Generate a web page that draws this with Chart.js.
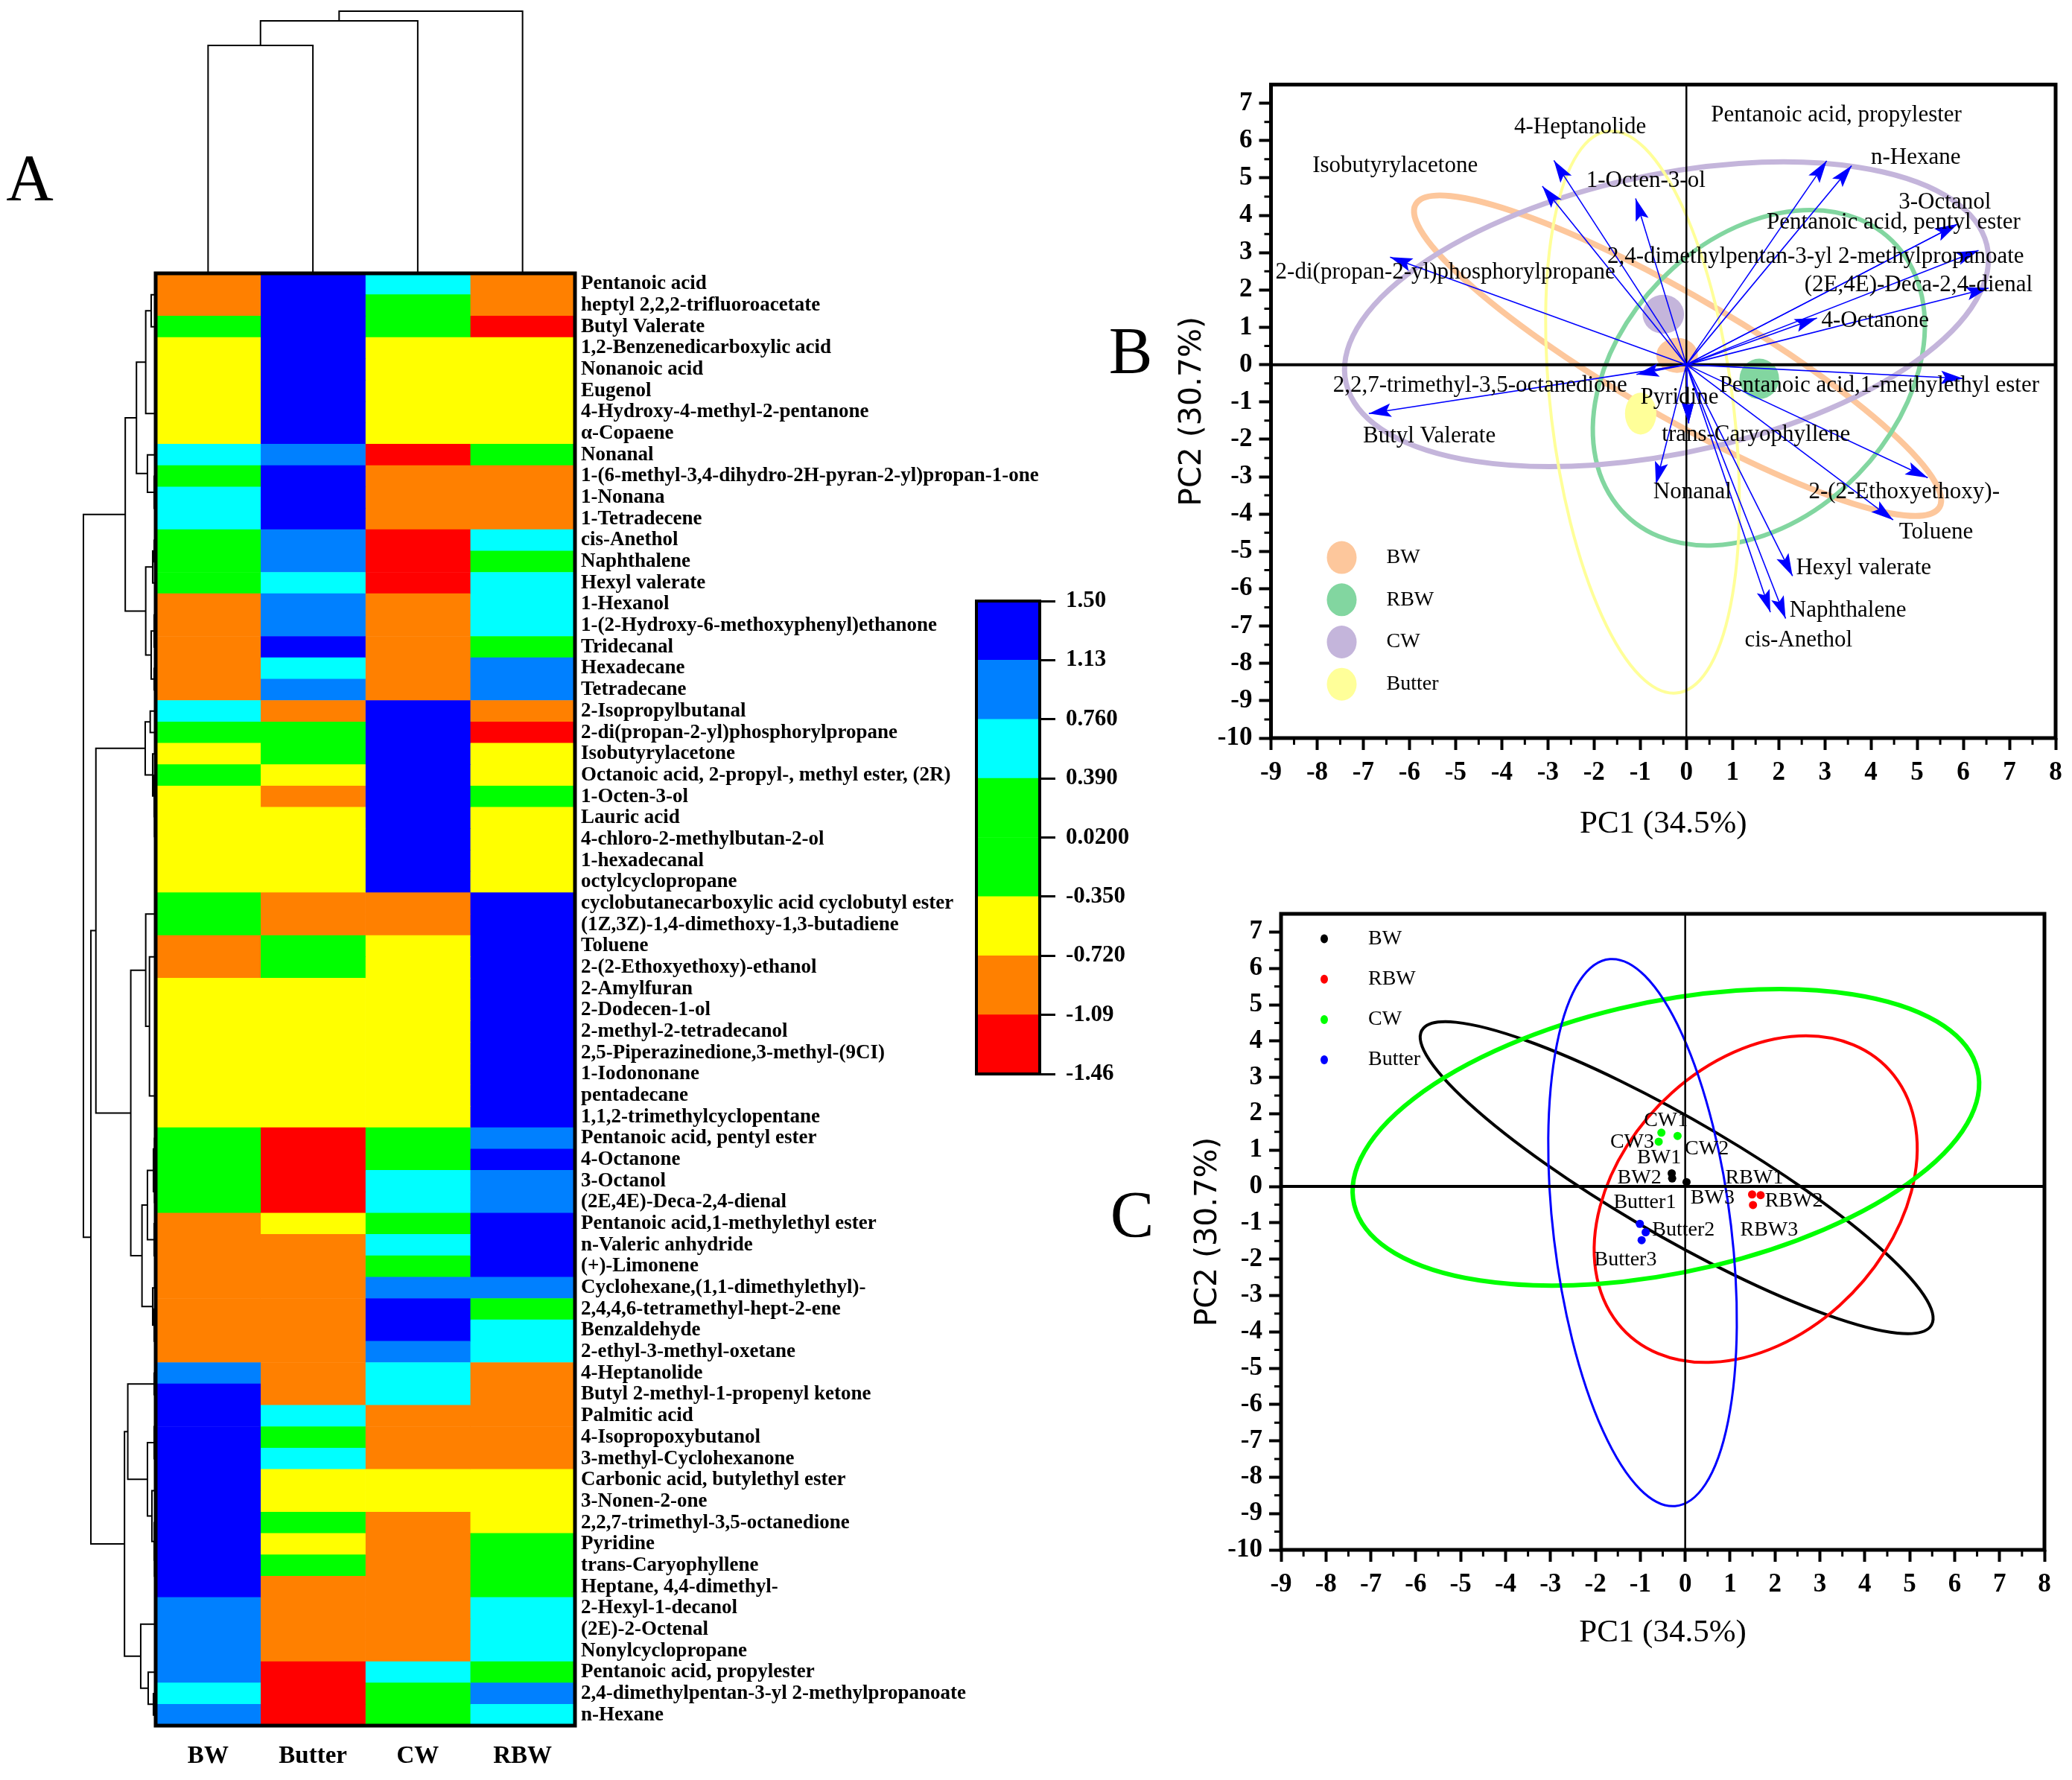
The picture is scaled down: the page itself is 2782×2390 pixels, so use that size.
<!DOCTYPE html>
<html>
<head>
<meta charset="utf-8">
<script src="https://cdn.jsdelivr.net/npm/chart.js@4.4.1/dist/chart.umd.min.js"></script>
<style>
  html, body { margin: 0; padding: 0; background: #fff; }
  body { width: 2782px; height: 2390px; position: relative; overflow: hidden; }
  canvas { position: absolute; }
</style>
</head>
<body>
<canvas id="letters" width="2782" height="2390" style="left:0;top:0"></canvas>
<canvas id="heatmap" width="1460" height="2390" style="left:0;top:0"></canvas>
<canvas id="colorbar" width="280" height="730" style="left:1290px;top:760px"></canvas>
<canvas id="biplot" width="1242" height="1100" style="left:1540px;top:60px"></canvas>
<canvas id="scores" width="1242" height="1110" style="left:1540px;top:1170px"></canvas>
<script>
Chart.defaults.font.family = "'Liberation Serif', 'Times New Roman', serif";
Chart.defaults.color = "#000";

// ---- panel A : heatmap ----
const samples = ["BW", "Butter", "CW", "RBW"];
const compounds = [
  "Pentanoic acid", "heptyl 2,2,2-trifluoroacetate", "Butyl Valerate", "1,2-Benzenedicarboxylic acid",
  "Nonanoic acid", "Eugenol", "4-Hydroxy-4-methyl-2-pentanone", "α-Copaene", "Nonanal",
  "1-(6-methyl-3,4-dihydro-2H-pyran-2-yl)propan-1-one", "1-Nonana", "1-Tetradecene", "cis-Anethol",
  "Naphthalene", "Hexyl valerate", "1-Hexanol", "1-(2-Hydroxy-6-methoxyphenyl)ethanone", "Tridecanal",
  "Hexadecane", "Tetradecane", "2-Isopropylbutanal", "2-di(propan-2-yl)phosphorylpropane",
  "Isobutyrylacetone", "Octanoic acid, 2-propyl-, methyl ester, (2R)", "1-Octen-3-ol", "Lauric acid",
  "4-chloro-2-methylbutan-2-ol", "1-hexadecanal", "octylcyclopropane",
  "cyclobutanecarboxylic acid cyclobutyl ester", "(1Z,3Z)-1,4-dimethoxy-1,3-butadiene", "Toluene",
  "2-(2-Ethoxyethoxy)-ethanol", "2-Amylfuran", "2-Dodecen-1-ol", "2-methyl-2-tetradecanol",
  "2,5-Piperazinedione,3-methyl-(9CI)", "1-Iodononane", "pentadecane", "1,1,2-trimethylcyclopentane",
  "Pentanoic acid, pentyl ester", "4-Octanone", "3-Octanol", "(2E,4E)-Deca-2,4-dienal",
  "Pentanoic acid,1-methylethyl ester", "n-Valeric anhydride", "(+)-Limonene",
  "Cyclohexane,(1,1-dimethylethyl)-", "2,4,4,6-tetramethyl-hept-2-ene", "Benzaldehyde",
  "2-ethyl-3-methyl-oxetane", "4-Heptanolide", "Butyl 2-methyl-1-propenyl ketone", "Palmitic acid",
  "4-Isopropoxybutanol", "3-methyl-Cyclohexanone", "Carbonic acid, butylethyl ester", "3-Nonen-2-one",
  "2,2,7-trimethyl-3,5-octanedione", "Pyridine", "trans-Caryophyllene", "Heptane, 4,4-dimethyl-",
  "2-Hexyl-1-decanol", "(2E)-2-Octenal", "Nonylcyclopropane", "Pentanoic acid, propylester",
  "2,4-dimethylpentan-3-yl 2-methylpropanoate", "n-Hexane"
];
// standardised contents
const bwValues = [
  -0.93, -0.88, 0.12, -0.52, -0.55, -0.55, -0.56, -0.54, 0.58, -0.08,
  0.61, 0.60, 0.05, -0.02, 0.15, -0.85, -0.86, -0.95, -0.90, -0.92,
  0.52, 0.08, -0.58, -0.12, -0.53, -0.56, -0.56, -0.56, -0.56, 0.18,
  0.18, -0.84, -0.84, -0.55, -0.55, -0.55, -0.55, -0.55, -0.55, -0.55,
  -0.15, -0.12, 0.05, 0.05, -0.96, -0.94, -0.94, -0.90, -0.88, -0.88,
  -0.89, 0.98, 1.34, 1.36, 1.36, 1.36, 1.40, 1.40, 1.42, 1.41,
  1.41, 1.38, 1.02, 1.02, 1.02, 0.91, 0.70, 0.86
];
const butterValues = [
  1.46, 1.40, 1.42, 1.48, 1.48, 1.48, 1.48, 1.48, 0.89, 1.38,
  1.35, 1.35, 0.96, 0.92, 0.66, 0.98, 0.98, 1.21, 0.64, 0.88,
  -0.97, 0.10, -0.20, -0.49, -0.86, -0.60, -0.60, -0.60, -0.60, -0.95,
  -0.95, -0.18, -0.18, -0.62, -0.62, -0.62, -0.62, -0.62, -0.62, -0.62,
  -1.42, -1.38, -1.35, -1.35, -0.45, -0.90, -0.90, -0.86, -0.82, -0.82,
  -0.82, -1.02, -1.00, 0.47, 0.22, 0.50, -0.66, -0.66, -0.25, -0.40,
  -0.10, -0.88, -0.96, -0.96, -0.96, -1.20, -1.30, -1.25
];
const cwValues = [
  0.44, 0.28, -0.10, -0.62, -0.62, -0.62, -0.62, -0.62, -1.30, -0.84,
  -0.81, -0.81, -1.33, -1.36, -1.30, -0.93, -0.93, -0.96, -0.96, -0.96,
  1.37, 1.44, 1.31, 1.40, 1.29, 1.46, 1.46, 1.46, 1.46, -0.79,
  -0.79, -0.47, -0.47, -0.50, -0.50, -0.50, -0.50, -0.50, -0.50, -0.50,
  -0.03, 0.00, 0.42, 0.45, 0.30, 0.60, 0.34, 0.82, 1.16, 1.20,
  0.87, 0.68, 0.72, -0.86, -0.85, -0.85, -0.71, -0.71, -0.98, -0.98,
  -0.98, -0.94, -0.87, -0.87, -0.87, 0.48, 0.14, 0.10
];
const rbwValues = [
  -0.92, -0.96, -1.38, -0.63, -0.63, -0.63, -0.63, -0.63, 0.20, -0.84,
  -0.78, -0.78, 0.55, 0.10, 0.52, 0.66, 0.66, -0.20, 0.90, 0.90,
  -0.89, -1.17, -0.48, -0.48, -0.30, -0.52, -0.52, -0.52, -0.52, 1.45,
  1.45, 1.25, 1.25, 1.42, 1.42, 1.42, 1.42, 1.42, 1.42, 1.42,
  0.98, 1.15, 1.06, 1.06, 1.32, 1.30, 1.31, 0.85, -0.04, 0.49,
  0.49, -0.93, -0.93, -0.89, -0.89, -0.89, -0.52, -0.52, -0.40, 0.06,
  0.06, 0.08, 0.63, 0.63, 0.63, -0.16, 0.80, 0.55
];
const scaleBreaks = [-1.46, -1.09, -0.72, -0.35, 0.02, 0.39, 0.76, 1.13, 1.50];
const scaleLabels = ["-1.46", "-1.09", "-0.720", "-0.350", "0.0200", "0.390", "0.760", "1.13", "1.50"];
const bandColors = ["#FF0000", "#FF8000", "#FFFF00", "#00FF00", "#00FF00", "#00FFFF", "#0080FF", "#0000FF"];

// cluster trees: [linkage distance, left, right], leaves are row / column indices
const rowTree = [96.7,
  [40.7,
    [25.7,
      [13.3, [6, [1, 0, 1], 2], [0.8, [0.8, [0.8, [0.8, 3, 4], 5], 6], 7]],
      [11, 8, [2, 9, [1, 10, 11]]]],
    [13.3, [4, [2, 12, 13], 14], [6, [2, [1, 15, 16], 17], [2, 18, 19]]]],
  [86.7,
    [80,
      [14, [7.3, 20, 21], [4, 22, [2, 23, [1.5, 24, [1, 25, [1, 26, [1, 27, 28]]]]]]],
      [33.3,
        [13.3, [1, 29, 30], [8.3, [1, 31, 32], [1, [1, [1, [1, [1, [1, 33, 34], 35], 36], 37], 38], 39]]],
        [18.3, [11, [3, [1.5, 40, 41], [1.5, 42, 43]], [2, 44, [1, 45, 46]]], [4, 47, [2, 48, [1, 49, 50]]]]]],
    [41.7,
      [37.3, [2, 51, 52], [11, [2, [1, 53, 54], 55], [5, [1, 56, 57], [2, 58, [1.5, 59, [1, 60, 61]]]]]],
      [20, [1, 62, [1, 63, 64]], [10, 65, [3, 66, 67]]]]]];
const colTree = [352, [339, [306, 0, 1], 2], 3];

// ---- panels B / C : PCA ----
const pcTicksX = [-9, -8, -7, -6, -5, -4, -3, -2, -1, 0, 1, 2, 3, 4, 5, 6, 7, 8];
const pcTicksY = [-10, -9, -8, -7, -6, -5, -4, -3, -2, -1, 0, 1, 2, 3, 4, 5, 6, 7];
const groups = ["BW", "RBW", "CW", "Butter"];
const ellipseCx = [-0.19, 1.57, -0.43, -0.95];
const ellipseCy = [0.24, -0.35, 1.35, -1.27];
const ellipseA = [6.98, 4.77, 7.19, 7.56];
const ellipseB = [1.52, 3.22, 3.69, 1.98];
const ellipseAngle = [143.9, 62.9, 16.4, 95.5];
const meanCx = [-0.20, 1.58, -0.50, -0.99];
const meanCy = [0.25, -0.38, 1.35, -1.31];
const meanRx = [0.45, 0.43, 0.45, 0.34];
const meanRy = [0.47, 0.54, 0.52, 0.56];

const loadingNames = ["4-Heptanolide", "Isobutyrylacetone", "1-Octen-3-ol", "2-di(propan-2-yl)phosphorylpropane",
  "Pentanoic acid, propylester", "n-Hexane", "3-Octanol", "Pentanoic acid, pentyl ester",
  "2,4-dimethylpentan-3-yl 2-methylpropanoate", "(2E,4E)-Deca-2,4-dienal", "4-Octanone",
  "Pentanoic acid,1-methylethyl ester", "2,2,7-trimethyl-3,5-octanedione", "Butyl Valerate", "Pyridine",
  "trans-Caryophyllene", "Nonanal", "2-(2-Ethoxyethoxy)-", "Toluene", "Hexyl valerate", "Naphthalene", "cis-Anethol"];
const loadingX = [-2.87, -3.12, -1.10, -6.42, 3.04, 3.58, 5.87, 5.87, 6.33, 6.55, 2.83, 6.00, -1.08, -6.88, 0.05, 0.05, -0.66, 5.23, 4.48, 2.30, 2.15, 1.82];
const loadingY = [5.47, 4.78, 4.45, 2.88, 5.46, 5.33, 3.76, 3.76, 3.06, 2.05, 1.25, -0.37, -0.26, -1.31, -1.57, -1.57, -3.20, -3.03, -4.16, -5.66, -6.80, -6.63];
const loadingLabelX = [-2.30, -6.31, -0.88, -5.22, 3.25, 4.97, 5.60, 4.49, 2.80, 5.03, 4.09, 4.18, -4.47, -5.57, -0.15, 1.51, 0.13, 4.72, 5.41, 3.84, 3.50, 2.43];
const loadingLabelY = [6.35, 5.33, 4.92, 2.47, 6.68, 5.54, 4.35, 3.80, 2.88, 2.13, 1.17, -0.57, -0.57, -1.92, -0.89, -1.88, -3.42, -3.42, -4.49, -5.44, -6.59, -7.39];

const scoreLabels = [["BW1", "BW2", "BW3"], ["RBW1", "RBW2", "RBW3"], ["CW1", "CW2", "CW3"], ["Butter1", "Butter2", "Butter3"]];
const scoreX = [[-0.30, -0.29, 0.03], [1.49, 1.68, 1.51], [-0.53, -0.17, -0.59], [-1.01, -0.88, -0.97]];
const scoreY = [[0.36, 0.22, 0.12], [-0.22, -0.24, -0.51], [1.48, 1.39, 1.23], [-1.03, -1.26, -1.48]];
const scoreLabelX = [[-0.58, -1.02, 0.61], [1.54, 2.42, 1.87], [-0.43, 0.48, -1.18], [-0.90, -0.04, -1.33]];
const scoreLabelY = [[0.78, 0.24, -0.32], [0.23, -0.40, -1.20], [1.82, 1.04, 1.22], [-0.44, -1.20, -2.03]];

const pastel = ["#FDC79C", "#82D6A0", "#C4B5DB", "#FFFF99"];
const pastelWidth = [8, 6, 7, 4];
const strong = ["#000000", "#FF0000", "#00FF00", "#0000FF"];
const strongWidth = [4, 4, 6, 3];

function bandColor(v) {
  for (let i = 0; i < bandColors.length; i++) {
    if (v < scaleBreaks[i + 1]) return bandColors[i];
  }
  return bandColors[bandColors.length - 1];
}

// panel letters
const lc = document.getElementById("letters").getContext("2d");
lc.font = "88px 'Liberation Serif'";
lc.textAlign = "center";
lc.fillStyle = "#000";
lc.fillText("A", 40, 268);
lc.fillText("B", 1518, 500);
lc.fillText("C", 1520, 1660);

const heatmapDecor = {
  id: "heatmapDecor",
  afterDraw(chart) {
    const { ctx, chartArea: a, scales } = chart;
    ctx.save();
    ctx.strokeStyle = "#000";
    ctx.lineWidth = 2;
    const kr = 97 / rowTree[0];
    const drawRow = (node) => {
      if (typeof node === "number") return { pos: scales.y.getPixelForValue(node), h: 0 };
      const l = drawRow(node[1]);
      const r = drawRow(node[2]);
      const x = a.left - node[0] * kr;
      ctx.beginPath();
      ctx.moveTo(a.left - l.h * kr, l.pos);
      ctx.lineTo(x, l.pos);
      ctx.lineTo(x, r.pos);
      ctx.lineTo(a.left - r.h * kr, r.pos);
      ctx.stroke();
      return { pos: (l.pos + r.pos) / 2, h: node[0] };
    };
    drawRow(rowTree);
    const kc = 352 / colTree[0];
    const drawCol = (node) => {
      if (typeof node === "number") return { pos: scales.x.getPixelForValue(node + 0.5), h: 0 };
      const l = drawCol(node[1]);
      const r = drawCol(node[2]);
      const y = a.top - node[0] * kc;
      ctx.beginPath();
      ctx.moveTo(l.pos, a.top - l.h * kc);
      ctx.lineTo(l.pos, y);
      ctx.lineTo(r.pos, y);
      ctx.lineTo(r.pos, a.top - r.h * kc);
      ctx.stroke();
      return { pos: (l.pos + r.pos) / 2, h: node[0] };
    };
    drawCol(colTree);
    ctx.lineWidth = 5;
    ctx.strokeRect(a.left, a.top, a.width, a.height);
    ctx.restore();
  },
};

new Chart(document.getElementById("heatmap"), {
  type: "bar",
  data: {
    labels: compounds,
    datasets: [bwValues, butterValues, cwValues, rbwValues].map((vals, i) => ({
      label: samples[i],
      data: vals.map(() => 1),
      backgroundColor: vals.map(bandColor),
      borderWidth: 0,
      barPercentage: 1,
      categoryPercentage: 1,
    })),
  },
  options: {
    indexAxis: "y",
    responsive: false,
    animation: false,
    devicePixelRatio: 1,
    events: [],
    layout: { padding: { left: 209, top: 367, right: 0, bottom: 0 } },
    plugins: { legend: { display: false }, tooltip: { enabled: false } },
    scales: {
      x: {
        stacked: true,
        min: 0,
        max: 4,
        afterBuildTicks: (s) => { s.ticks = samples.map((_, i) => ({ value: i + 0.5 })); },
        afterFit: (s) => { s.height = 73; },
        ticks: { callback: (v) => samples[Math.floor(v)], font: { size: 33, weight: "bold" }, color: "#000", padding: 22, maxRotation: 0 },
        grid: { display: false, drawTicks: false },
        border: { display: false },
      },
      y: {
        stacked: true,
        position: "right",
        afterFit: (s) => { s.width = 688; },
        ticks: { autoSkip: false, font: { size: 27, weight: "bold" }, color: "#000", padding: 8 },
        grid: { display: false, drawTicks: false },
        border: { display: false },
      },
    },
  },
  plugins: [heatmapDecor],
});

const boxFrame = {
  id: "boxFrame",
  afterDraw(chart) {
    const { ctx, chartArea: a } = chart;
    ctx.save();
    ctx.strokeStyle = "#000";
    ctx.lineWidth = 4;
    ctx.strokeRect(a.left, a.top, a.width, a.height);
    ctx.restore();
  },
};

new Chart(document.getElementById("colorbar"), {
  type: "bar",
  data: {
    labels: [""],
    datasets: bandColors.map((c, i) => ({
      data: [[scaleBreaks[i], scaleBreaks[i + 1]]],
      backgroundColor: c,
      borderWidth: 0,
      barPercentage: 1,
      categoryPercentage: 1,
    })),
  },
  options: {
    responsive: false,
    animation: false,
    devicePixelRatio: 1,
    events: [],
    layout: { padding: { left: 21, top: 47, bottom: 48, right: 0 } },
    plugins: { legend: { display: false }, tooltip: { enabled: false } },
    scales: {
      x: { stacked: true, display: false },
      y: {
        stacked: false,
        position: "right",
        min: -1.46,
        max: 1.5,
        afterBuildTicks: (s) => { s.ticks = scaleBreaks.map((v) => ({ value: v })); },
        afterFit: (s) => { s.width = 174; },
        ticks: { autoSkip: false, callback: (v, i) => scaleLabels[i], font: { size: 31, weight: "bold" }, color: "#000", padding: 14 },
        grid: { drawOnChartArea: false, tickLength: 21, tickWidth: 3, tickColor: "#000" },
        border: { display: false },
      },
    },
  },
  plugins: [boxFrame],
});

// ---- PCA helpers ----
function traceEllipse(chart, cx, cy, a, b, angle) {
  const { ctx, scales } = chart;
  const kx = scales.x.getPixelForValue(1) - scales.x.getPixelForValue(0);
  const ky = scales.y.getPixelForValue(0) - scales.y.getPixelForValue(1);
  ctx.save();
  ctx.translate(scales.x.getPixelForValue(cx), scales.y.getPixelForValue(cy));
  ctx.scale(kx, -ky);
  ctx.rotate((angle * Math.PI) / 180);
  ctx.beginPath();
  ctx.ellipse(0, 0, a, b, 0, 0, Math.PI * 2);
  ctx.restore();
}

function drawZeroLines(chart) {
  const { ctx, chartArea: a, scales } = chart;
  const x0 = scales.x.getPixelForValue(0);
  const y0 = scales.y.getPixelForValue(0);
  ctx.save();
  ctx.strokeStyle = "#000";
  ctx.lineWidth = 4;
  ctx.beginPath();
  ctx.moveTo(a.left, y0);
  ctx.lineTo(a.right, y0);
  ctx.stroke();
  ctx.lineWidth = 2.5;
  ctx.beginPath();
  ctx.moveTo(x0, a.top);
  ctx.lineTo(x0, a.bottom);
  ctx.stroke();
  ctx.restore();
}

function drawFrame(chart) {
  const { ctx, chartArea: a, scales } = chart;
  ctx.save();
  ctx.strokeStyle = "#000";
  ctx.lineWidth = 5;
  ctx.strokeRect(a.left, a.top, a.width, a.height);
  // minor ticks at half units
  ctx.lineWidth = 3;
  ctx.beginPath();
  for (let v = scales.x.min + 0.5; v < scales.x.max; v += 1) {
    const px = scales.x.getPixelForValue(v);
    ctx.moveTo(px, a.bottom);
    ctx.lineTo(px, a.bottom + 9);
  }
  for (let v = scales.y.min + 0.5; v < scales.y.max; v += 1) {
    const py = scales.y.getPixelForValue(v);
    ctx.moveTo(a.left, py);
    ctx.lineTo(a.left - 9, py);
  }
  ctx.stroke();
  ctx.restore();
}

function pcaOptions(box) {
  return {
    responsive: false,
    animation: false,
    devicePixelRatio: 1,
    events: [],
    layout: { padding: { top: box.top, right: box.right, left: 0, bottom: 0 } },
    plugins: { legend: { display: false }, tooltip: { enabled: false } },
    scales: {
      x: {
        type: "linear",
        min: -9,
        max: 8,
        afterBuildTicks: (s) => { s.ticks = pcTicksX.map((v) => ({ value: v })); },
        afterFit: (s) => { s.height = box.xHeight; },
        ticks: { autoSkip: false, maxRotation: 0, font: { size: 35, weight: "bold" }, color: "#000", padding: 10 },
        grid: { drawOnChartArea: false, tickLength: 16, tickWidth: 4, tickColor: "#000" },
        border: { display: false },
        title: { display: true, text: "PC1 (34.5%)", font: { size: 43 }, color: "#000", padding: { top: 0, bottom: box.xTitlePad } },
      },
      y: {
        type: "linear",
        min: -10,
        max: 7.5,
        afterBuildTicks: (s) => { s.ticks = pcTicksY.map((v) => ({ value: v })); },
        afterFit: (s) => { s.width = box.yWidth; },
        ticks: { autoSkip: false, font: { size: 35, weight: "bold" }, color: "#000", padding: 9 },
        grid: { drawOnChartArea: false, tickLength: 16, tickWidth: 4, tickColor: "#000" },
        border: { display: false },
        title: { display: true, text: "PC2 (30.7%)", font: { family: "'DejaVu Sans', sans-serif", size: 41 }, color: "#000", padding: { top: box.yTitlePad, bottom: 0 } },
      },
    },
  };
}

// ---- panel B : biplot ----
const biplotDecor = {
  id: "biplotDecor",
  beforeDatasetsDraw(chart) {
    const { ctx, chartArea: a } = chart;
    ctx.save();
    ctx.beginPath();
    ctx.rect(a.left, a.top, a.width, a.height);
    ctx.clip();
    groups.forEach((g, i) => {
      traceEllipse(chart, ellipseCx[i], ellipseCy[i], ellipseA[i], ellipseB[i], ellipseAngle[i]);
      ctx.strokeStyle = pastel[i];
      ctx.lineWidth = pastelWidth[i];
      ctx.stroke();
    });
    groups.forEach((g, i) => {
      traceEllipse(chart, meanCx[i], meanCy[i], meanRx[i], meanRy[i], 0);
      ctx.fillStyle = pastel[i];
      ctx.fill();
    });
    ctx.restore();
    drawZeroLines(chart);
  },
  afterDatasetsDraw(chart) {
    const { ctx, scales } = chart;
    const x0 = scales.x.getPixelForValue(0);
    const y0 = scales.y.getPixelForValue(0);
    ctx.save();
    ctx.fillStyle = "#0000FF";
    loadingNames.forEach((n, i) => {
      const x1 = scales.x.getPixelForValue(loadingX[i]);
      const y1 = scales.y.getPixelForValue(loadingY[i]);
      const ang = Math.atan2(y1 - y0, x1 - x0);
      const len = 30, half = 9;
      ctx.beginPath();
      ctx.moveTo(x1, y1);
      ctx.lineTo(x1 - len * Math.cos(ang) + half * Math.sin(ang), y1 - len * Math.sin(ang) - half * Math.cos(ang));
      ctx.lineTo(x1 - len * 0.8 * Math.cos(ang), y1 - len * 0.8 * Math.sin(ang));
      ctx.lineTo(x1 - len * Math.cos(ang) - half * Math.sin(ang), y1 - len * Math.sin(ang) + half * Math.cos(ang));
      ctx.closePath();
      ctx.fill();
    });
    ctx.fillStyle = "#000";
    ctx.font = "31px 'Liberation Serif'";
    ctx.textAlign = "center";
    ctx.textBaseline = "middle";
    loadingNames.forEach((n, i) => {
      ctx.fillText(n, scales.x.getPixelForValue(loadingLabelX[i]), scales.y.getPixelForValue(loadingLabelY[i]));
    });
    ctx.restore();
  },
  afterDraw(chart) {
    const { ctx, chartArea: a } = chart;
    drawFrame(chart);
    ctx.save();
    ctx.font = "28px 'Liberation Serif'";
    ctx.textBaseline = "middle";
    groups.forEach((g, i) => {
      const y = a.top + 635 + i * 56.7;
      ctx.fillStyle = pastel[i];
      ctx.beginPath();
      ctx.ellipse(a.left + 95, y, 20, 22, 0, 0, Math.PI * 2);
      ctx.fill();
      ctx.fillStyle = "#000";
      ctx.fillText(g, a.left + 155, y);
    });
    ctx.restore();
  },
};

new Chart(document.getElementById("biplot"), {
  type: "scatter",
  data: {
    datasets: loadingNames.map((n, i) => ({
      label: n,
      data: [{ x: 0, y: 0 }, { x: loadingX[i], y: loadingY[i] }],
      showLine: true,
      borderColor: "#0000FF",
      borderWidth: 1.6,
      pointRadius: 0,
    })),
  },
  options: pcaOptions({ top: 53.6, right: 22, xHeight: 169, yWidth: 166.5, xTitlePad: 27, yTitlePad: 37 }),
  plugins: [biplotDecor],
});

// ---- panel C : scores ----
const scoresDecor = {
  id: "scoresDecor",
  beforeDatasetsDraw(chart) {
    const { ctx, chartArea: a } = chart;
    ctx.save();
    ctx.beginPath();
    ctx.rect(a.left, a.top, a.width, a.height);
    ctx.clip();
    groups.forEach((g, i) => {
      traceEllipse(chart, ellipseCx[i], ellipseCy[i], ellipseA[i], ellipseB[i], ellipseAngle[i]);
      ctx.strokeStyle = strong[i];
      ctx.lineWidth = strongWidth[i];
      ctx.stroke();
    });
    ctx.restore();
    drawZeroLines(chart);
  },
  afterDatasetsDraw(chart) {
    const { ctx, scales } = chart;
    ctx.save();
    ctx.fillStyle = "#000";
    ctx.font = "28px 'Liberation Serif'";
    ctx.textAlign = "center";
    ctx.textBaseline = "middle";
    scoreLabels.forEach((names, i) => {
      names.forEach((n, j) => {
        ctx.fillText(n, scales.x.getPixelForValue(scoreLabelX[i][j]), scales.y.getPixelForValue(scoreLabelY[i][j]));
      });
    });
    ctx.restore();
  },
  afterDraw(chart) {
    const { ctx, chartArea: a } = chart;
    drawFrame(chart);
    ctx.save();
    ctx.font = "28px 'Liberation Serif'";
    ctx.textBaseline = "middle";
    groups.forEach((g, i) => {
      const y = a.top + 33.5 + i * 54.2;
      ctx.fillStyle = strong[i];
      ctx.beginPath();
      ctx.ellipse(a.left + 58, y, 5, 6, 0, 0, Math.PI * 2);
      ctx.fill();
      ctx.fillStyle = "#000";
      ctx.fillText(g, a.left + 117, y);
    });
    ctx.restore();
  },
};

new Chart(document.getElementById("scores"), {
  type: "scatter",
  data: {
    datasets: groups.map((g, i) => ({
      label: g,
      data: scoreX[i].map((x, j) => ({ x, y: scoreY[i][j] })),
      backgroundColor: strong[i],
      borderWidth: 0,
      pointRadius: 5.5,
    })),
  },
  options: pcaOptions({ top: 57, right: 37, xHeight: 199, yWidth: 180, xTitlePad: 61, yTitlePad: 58 }),
  plugins: [scoresDecor],
});
</script>
</body>
</html>
